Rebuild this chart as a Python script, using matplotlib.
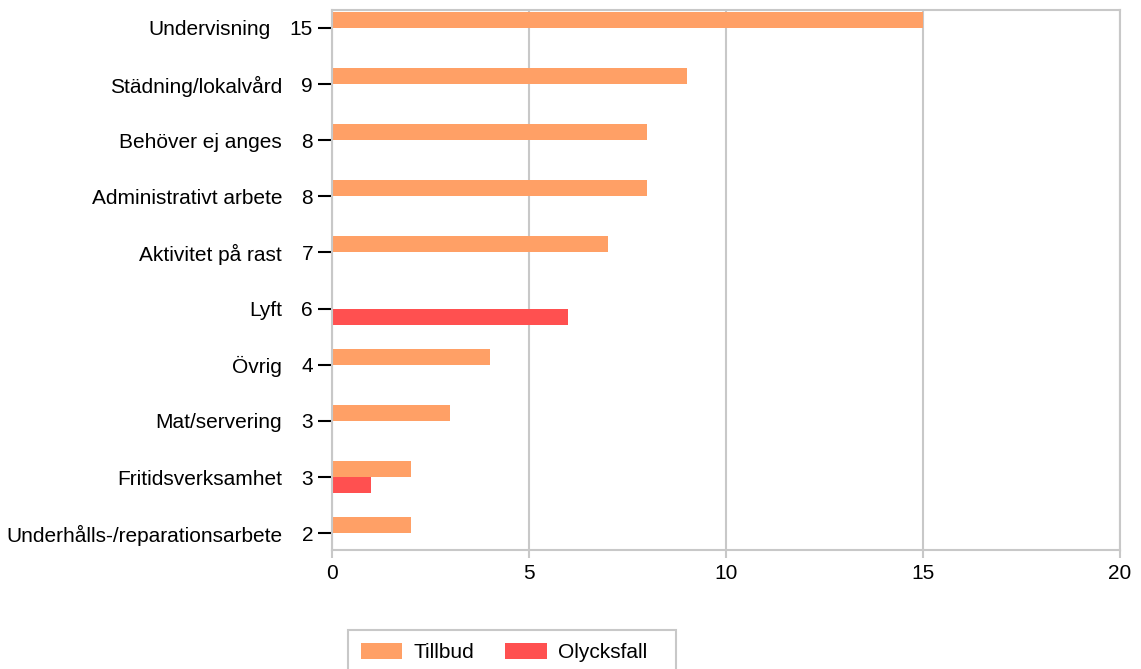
import matplotlib.pyplot as plt
from matplotlib.patches import Rectangle
import numpy as np

plt.rcParams['font.family'] = ['Liberation Sans', 'DejaVu Sans']

categories = ["Undervisning", "Städning/lokalvård", "Behöver ej anges", "Administrativt arbete",
              "Aktivitet på rast", "Lyft", "Övrig", "Mat/servering", "Fritidsverksamhet",
              "Underhålls-/reparationsarbete"]
tillbud = [15, 9, 8, 8, 7, 0, 4, 3, 2, 2]
olycksfall = [0, 0, 0, 0, 0, 6, 0, 0, 1, 0]
totals = [t + o for t, o in zip(tillbud, olycksfall)]

c_till = "#FFA066"
c_olyc = "#FF5050"
gray = "#C8C8C8"
fs = 15

W, H = 1141, 669
fig = plt.figure(figsize=(W/100, H/100), dpi=100)
ax = fig.add_axes([332/W, 1 - 550/H, (1120 - 332)/W, 540/H])

y = np.arange(len(categories))
h = 0.285
till_vals = np.array(tillbud, dtype=float)
olyc_vals = np.array(olycksfall, dtype=float)
mt = till_vals > 0
mo = olyc_vals > 0
# y axis is inverted: Tillbud sits above the tick, Olycksfall below it
ax.barh(y[mt] - h, till_vals[mt], height=h, align="edge", color=c_till, label="Tillbud")
ax.barh(y[mo], olyc_vals[mo], height=h, align="edge", color=c_olyc, label="Olycksfall")
ax.set_ylim(9.3, -0.32)
ax.set_xlim(0, 20)
ax.set_xticks([0, 5, 10, 15, 20])
ax.set_yticks(y)
ax.set_yticklabels([str(t) for t in totals])
ax.tick_params(axis="y", length=10, width=1.5, color="black", labelsize=fs, pad=3.6)
ax.tick_params(axis="x", length=6, width=1.5, color=gray, labelsize=fs, pad=4)
ax.xaxis.grid(True, color=gray, linewidth=1.5)
ax.set_axisbelow(True)
for s in ax.spines.values():
    s.set_color(gray)
    s.set_linewidth(1.5)

# category names sit left of the total labels
for lab, name in zip(ax.get_yticklabels(), categories):
    ax.annotate(name, xy=(0, 0.5), xycoords=lab,
                xytext=(-14, 0), textcoords="offset points",
                ha="right", va="center", fontsize=fs)

leg = fig.legend(loc="upper left", bbox_to_anchor=(348/W, 1 - 630/H), ncol=2,
                 fontsize=fs, frameon=False,
                 handlelength=2.0, handleheight=0.87, handletextpad=0.53,
                 columnspacing=1.5, borderpad=0.6, borderaxespad=0)
fig.patches.append(Rectangle((348/W, -0.05), 328/W, 0.05 + 1 - 630/H,
                             transform=fig.transFigure, fill=False,
                             edgecolor=gray, linewidth=1.5))

fig.savefig("out.png", dpi=100)
